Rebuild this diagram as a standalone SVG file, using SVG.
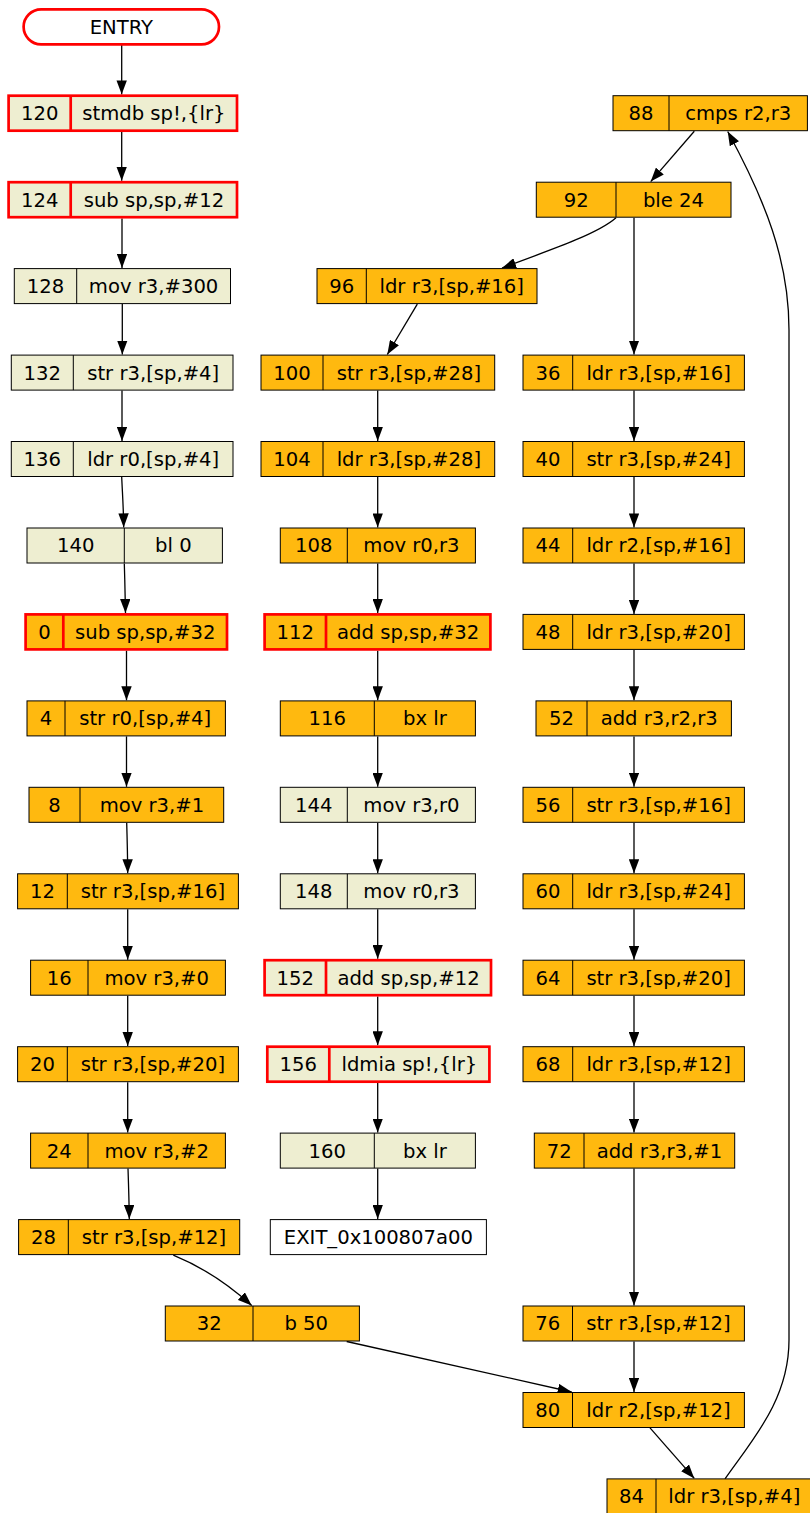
<svg xmlns="http://www.w3.org/2000/svg" width="810" height="1513" viewBox="0 0 810 1513">
<style>
rect, line.d { stroke: #000; stroke-width: 1; }
.o rect { fill: #ffb90f; }
.b rect { fill: #eeeed1; }
.w rect { fill: #ffffff; }
.r rect, .r line.d { stroke: #ff0000; stroke-width: 2.7; }
text { font-family: "DejaVu Sans", Verdana, sans-serif; font-size: 19.6px; fill: #000; text-anchor: middle; }
#edges path { fill: none; stroke: #000; stroke-width: 1.3; marker-end: url(#ah); }
</style>
<defs>
<marker id="ah" viewBox="0 0 14 10.4" refX="14" refY="5.2" markerWidth="14" markerHeight="10.4" markerUnits="userSpaceOnUse" orient="auto">
<path d="M0,0 L14,5.2 L0,10.4 z" fill="#000"/>
</marker>
</defs>
<g id="edges">
<path d="M121.7,44.5 V94.4"/>
<path d="M121.7,132 V180.8"/>
<path d="M122,218.5 V268"/>
<path d="M122.3,304.1 V354.5"/>
<path d="M122,390.6 V441"/>
<path d="M121.7,477 C122.5,495 123.5,508 123.7,527.4"/>
<path d="M124.3,563.5 C124.8,580 125.2,595 125.5,613"/>
<path d="M126.5,650.7 V700.3"/>
<path d="M126.5,736.4 V786.8"/>
<path d="M126.7,822.8 C127.2,840 127.6,855 127.7,873.2"/>
<path d="M127.7,909.3 V959.7"/>
<path d="M127.7,995.7 V1046.1"/>
<path d="M127.7,1082.2 V1132.6"/>
<path d="M128,1168.6 C128.6,1186 129.1,1201 129.3,1219"/>
<path d="M173.3,1255.1 C200,1266 228,1284 251.7,1305.5"/>
<path d="M346.7,1341.5 L571.7,1392"/>
<path d="M417.3,304.1 L387.3,354.5"/>
<path d="M377.7,390.6 V441"/>
<path d="M377.7,477 V527.4"/>
<path d="M377.7,563.5 V613"/>
<path d="M377.7,650.7 V700.3"/>
<path d="M377.7,736.4 V786.8"/>
<path d="M377.7,822.8 V873.2"/>
<path d="M377.7,909.3 V958.8"/>
<path d="M377.7,996.6 V1045.3"/>
<path d="M377.7,1083 V1132.6"/>
<path d="M377.7,1168.6 V1219"/>
<path d="M694.3,131.2 L650.7,181.6"/>
<path d="M616,217.7 C600,232 562,246 502,268"/>
<path d="M634,217.7 V354.5"/>
<path d="M634,390.6 V441"/>
<path d="M634,477 V527.4"/>
<path d="M634,563.5 V613.9"/>
<path d="M634,650 V700.3"/>
<path d="M634,736.4 V786.8"/>
<path d="M634,822.8 V873.2"/>
<path d="M634,909.3 V959.7"/>
<path d="M634,995.7 V1046.1"/>
<path d="M634,1082.2 V1132.6"/>
<path d="M634,1168.6 V1305.5"/>
<path d="M634,1341.5 V1392"/>
<path d="M650,1427.9 L694.3,1478.4"/>
<path d="M725,1478.9 C752,1440 789,1400 789,1340 L789,330 C789,260 765,200 727.7,131.5"/>
</g>

<g id="entry" class="r w"><rect x="23.6" y="9.3" width="195.4" height="35" rx="17.5" ry="17.5"/><text x="121.3" y="33.7">ENTRY</text></g>

<g id="n120" class="r b"><rect x="8.6" y="95.7" width="228.4" height="35"/><line class="d" x1="70.7" y1="95.7" x2="70.7" y2="130.7"/><text x="39.7" y="120.1">120</text><text x="153.9" y="120.1">stmdb sp!,{lr}</text></g>
<g id="n124" class="r b"><rect x="8.6" y="182.2" width="228.4" height="35"/><line class="d" x1="70.7" y1="182.2" x2="70.7" y2="217.2"/><text x="39.7" y="206.6">124</text><text x="153.9" y="206.6">sub sp,sp,#12</text></g>
<g id="n128" class="b"><rect x="14.3" y="268.6" width="216.2" height="35"/><line class="d" x1="76.7" y1="268.6" x2="76.7" y2="303.6"/><text x="45.5" y="293">128</text><text x="153.6" y="293">mov r3,#300</text></g>
<g id="n132" class="b"><rect x="11.3" y="355.1" width="221.7" height="35"/><line class="d" x1="73.3" y1="355.1" x2="73.3" y2="390.1"/><text x="42.3" y="379.5">132</text><text x="153.2" y="379.5">str r3,[sp,#4]</text></g>
<g id="n136" class="b"><rect x="11.3" y="441.5" width="221.7" height="35"/><line class="d" x1="73.3" y1="441.5" x2="73.3" y2="476.5"/><text x="42.3" y="465.9">136</text><text x="153.2" y="465.9">ldr r0,[sp,#4]</text></g>
<g id="n140" class="b"><rect x="27" y="528" width="195.4" height="35"/><line class="d" x1="124.3" y1="528" x2="124.3" y2="563"/><text x="75.7" y="552.4">140</text><text x="173.4" y="552.4">bl 0</text></g>
<g id="n0" class="r o"><rect x="25.6" y="614.4" width="201.4" height="35"/><line class="d" x1="63.3" y1="614.4" x2="63.3" y2="649.4"/><text x="44.5" y="638.8">0</text><text x="145.2" y="638.8">sub sp,sp,#32</text></g>
<g id="n4" class="o"><rect x="27" y="700.9" width="198.4" height="35"/><line class="d" x1="65" y1="700.9" x2="65" y2="735.9"/><text x="46" y="725.3">4</text><text x="145.2" y="725.3">str r0,[sp,#4]</text></g>
<g id="n8" class="o"><rect x="29" y="787.3" width="194.7" height="35"/><line class="d" x1="80" y1="787.3" x2="80" y2="822.3"/><text x="54.5" y="811.7">8</text><text x="151.9" y="811.7">mov r3,#1</text></g>
<g id="n12" class="o"><rect x="17.6" y="873.8" width="220.8" height="35"/><line class="d" x1="67.3" y1="873.8" x2="67.3" y2="908.8"/><text x="42.5" y="898.2">12</text><text x="152.9" y="898.2">str r3,[sp,#16]</text></g>
<g id="n16" class="o"><rect x="30.6" y="960.2" width="194.8" height="35"/><line class="d" x1="88" y1="960.2" x2="88" y2="995.2"/><text x="59.3" y="984.6">16</text><text x="156.7" y="984.6">mov r3,#0</text></g>
<g id="n20" class="o"><rect x="17.6" y="1046.7" width="220.8" height="35"/><line class="d" x1="67.3" y1="1046.7" x2="67.3" y2="1081.7"/><text x="42.5" y="1071.1">20</text><text x="152.9" y="1071.1">str r3,[sp,#20]</text></g>
<g id="n24" class="o"><rect x="30.6" y="1133.1" width="194.8" height="35"/><line class="d" x1="88" y1="1133.1" x2="88" y2="1168.1"/><text x="59.3" y="1157.5">24</text><text x="156.7" y="1157.5">mov r3,#2</text></g>
<g id="n28" class="o"><rect x="18.6" y="1219.6" width="221.1" height="35"/><line class="d" x1="68.3" y1="1219.6" x2="68.3" y2="1254.6"/><text x="43.5" y="1244">28</text><text x="154" y="1244">str r3,[sp,#12]</text></g>
<g id="n32" class="o"><rect x="165.3" y="1306" width="194.1" height="35"/><line class="d" x1="253" y1="1306" x2="253" y2="1341"/><text x="209.2" y="1330.4">32</text><text x="306.2" y="1330.4">b 50</text></g>

<g id="n96" class="o"><rect x="317" y="268.6" width="220" height="35"/><line class="d" x1="366.3" y1="268.6" x2="366.3" y2="303.6"/><text x="341.7" y="293">96</text><text x="451.7" y="293">ldr r3,[sp,#16]</text></g>
<g id="n100" class="o"><rect x="261" y="355.1" width="233.7" height="35"/><line class="d" x1="323" y1="355.1" x2="323" y2="390.1"/><text x="292" y="379.5">100</text><text x="408.9" y="379.5">str r3,[sp,#28]</text></g>
<g id="n104" class="o"><rect x="261" y="441.5" width="233.7" height="35"/><line class="d" x1="323" y1="441.5" x2="323" y2="476.5"/><text x="292" y="465.9">104</text><text x="408.9" y="465.9">ldr r3,[sp,#28]</text></g>
<g id="n108" class="o"><rect x="280.3" y="528" width="195.1" height="35"/><line class="d" x1="347.3" y1="528" x2="347.3" y2="563"/><text x="313.8" y="552.4">108</text><text x="411.4" y="552.4">mov r0,r3</text></g>
<g id="n112" class="r o"><rect x="264.6" y="614.4" width="225.8" height="35"/><line class="d" x1="326" y1="614.4" x2="326" y2="649.4"/><text x="295.3" y="638.8">112</text><text x="408.2" y="638.8">add sp,sp,#32</text></g>
<g id="n116" class="o"><rect x="280.3" y="700.9" width="195.1" height="35"/><line class="d" x1="374.3" y1="700.9" x2="374.3" y2="735.9"/><text x="327.3" y="725.3">116</text><text x="424.9" y="725.3">bx lr</text></g>
<g id="n144" class="b"><rect x="280.3" y="787.3" width="195.1" height="35"/><line class="d" x1="347.3" y1="787.3" x2="347.3" y2="822.3"/><text x="313.8" y="811.7">144</text><text x="411.4" y="811.7">mov r3,r0</text></g>
<g id="n148" class="b"><rect x="280.3" y="873.8" width="195.1" height="35"/><line class="d" x1="347.3" y1="873.8" x2="347.3" y2="908.8"/><text x="313.8" y="898.2">148</text><text x="411.4" y="898.2">mov r0,r3</text></g>
<g id="n152" class="r b"><rect x="264.6" y="960.2" width="226.4" height="35"/><line class="d" x1="326" y1="960.2" x2="326" y2="995.2"/><text x="295.3" y="984.6">152</text><text x="408.5" y="984.6">add sp,sp,#12</text></g>
<g id="n156" class="r b"><rect x="267.3" y="1046.7" width="222.1" height="35"/><line class="d" x1="329.3" y1="1046.7" x2="329.3" y2="1081.7"/><text x="298.3" y="1071.1">156</text><text x="409.4" y="1071.1">ldmia sp!,{lr}</text></g>
<g id="n160" class="b"><rect x="280.3" y="1133.1" width="195.1" height="35"/><line class="d" x1="374.3" y1="1133.1" x2="374.3" y2="1168.1"/><text x="327.3" y="1157.5">160</text><text x="424.9" y="1157.5">bx lr</text></g>
<g id="exit" class="w"><rect x="270.3" y="1219.6" width="216.1" height="35"/><text x="378.4" y="1244">EXIT_0x100807a00</text></g>

<g id="n88" class="o"><rect x="613" y="95.7" width="194.4" height="35"/><line class="d" x1="669" y1="95.7" x2="669" y2="130.7"/><text x="641" y="120.1">88</text><text x="738.2" y="120.1">cmps r2,r3</text></g>
<g id="n92" class="o"><rect x="536.3" y="182.2" width="194.7" height="35"/><line class="d" x1="616" y1="182.2" x2="616" y2="217.2"/><text x="576.2" y="206.6">92</text><text x="673.5" y="206.6">ble 24</text></g>
<g id="n36" class="o"><rect x="523" y="355.1" width="221.4" height="35"/><line class="d" x1="572.7" y1="355.1" x2="572.7" y2="390.1"/><text x="547.9" y="379.5">36</text><text x="658.6" y="379.5">ldr r3,[sp,#16]</text></g>
<g id="n40" class="o"><rect x="523" y="441.5" width="221.4" height="35"/><line class="d" x1="572.7" y1="441.5" x2="572.7" y2="476.5"/><text x="547.9" y="465.9">40</text><text x="658.6" y="465.9">str r3,[sp,#24]</text></g>
<g id="n44" class="o"><rect x="523" y="528" width="221.4" height="35"/><line class="d" x1="572.7" y1="528" x2="572.7" y2="563"/><text x="547.9" y="552.4">44</text><text x="658.6" y="552.4">ldr r2,[sp,#16]</text></g>
<g id="n48" class="o"><rect x="523" y="614.4" width="221.4" height="35"/><line class="d" x1="572.7" y1="614.4" x2="572.7" y2="649.4"/><text x="547.9" y="638.8">48</text><text x="658.6" y="638.8">ldr r3,[sp,#20]</text></g>
<g id="n52" class="o"><rect x="536" y="700.9" width="195.4" height="35"/><line class="d" x1="587" y1="700.9" x2="587" y2="735.9"/><text x="561.5" y="725.3">52</text><text x="659.2" y="725.3">add r3,r2,r3</text></g>
<g id="n56" class="o"><rect x="523" y="787.3" width="221.4" height="35"/><line class="d" x1="572.7" y1="787.3" x2="572.7" y2="822.3"/><text x="547.9" y="811.7">56</text><text x="658.6" y="811.7">str r3,[sp,#16]</text></g>
<g id="n60" class="o"><rect x="523" y="873.8" width="221.4" height="35"/><line class="d" x1="572.7" y1="873.8" x2="572.7" y2="908.8"/><text x="547.9" y="898.2">60</text><text x="658.6" y="898.2">ldr r3,[sp,#24]</text></g>
<g id="n64" class="o"><rect x="523" y="960.2" width="221.4" height="35"/><line class="d" x1="572.7" y1="960.2" x2="572.7" y2="995.2"/><text x="547.9" y="984.6">64</text><text x="658.6" y="984.6">str r3,[sp,#20]</text></g>
<g id="n68" class="o"><rect x="523" y="1046.7" width="221.4" height="35"/><line class="d" x1="572.7" y1="1046.7" x2="572.7" y2="1081.7"/><text x="547.9" y="1071.1">68</text><text x="658.6" y="1071.1">ldr r3,[sp,#12]</text></g>
<g id="n72" class="o"><rect x="534.3" y="1133.1" width="200.4" height="35"/><line class="d" x1="584" y1="1133.1" x2="584" y2="1168.1"/><text x="559.2" y="1157.5">72</text><text x="659.4" y="1157.5">add r3,r3,#1</text></g>
<g id="n76" class="o"><rect x="523" y="1306" width="221.4" height="35"/><line class="d" x1="572.5" y1="1306" x2="572.5" y2="1341"/><text x="547.8" y="1330.4">76</text><text x="658.5" y="1330.4">str r3,[sp,#12]</text></g>
<g id="n80" class="o"><rect x="523" y="1392.5" width="221.4" height="35"/><line class="d" x1="572.5" y1="1392.5" x2="572.5" y2="1427.5"/><text x="547.8" y="1416.9">80</text><text x="658.5" y="1416.9">ldr r2,[sp,#12]</text></g>
<g id="n84" class="o"><rect x="607" y="1478.9" width="205.5" height="35"/><line class="d" x1="656" y1="1478.9" x2="656" y2="1513.9"/><text x="631.5" y="1503.3">84</text><text x="734.3" y="1503.3">ldr r3,[sp,#4]</text></g>
</svg>
